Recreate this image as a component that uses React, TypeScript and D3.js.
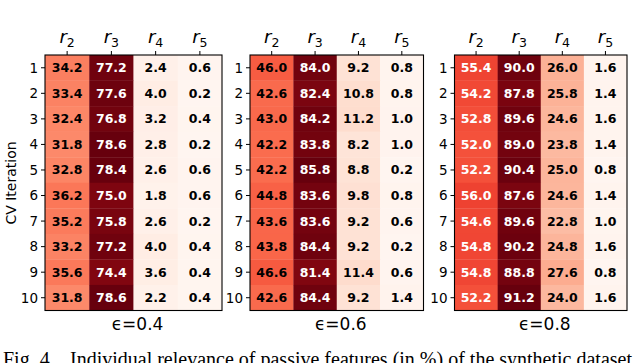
import React from "react";
import * as d3 from "d3";

const W = 640;
const H = 363;

const features = ["2", "3", "4", "5"];
const iterations = ["1", "2", "3", "4", "5", "6", "7", "8", "9", "10"];
const epsilons = ["0.4", "0.6", "0.8"];

const eps04 = [
  [34.2, 77.2, 2.4, 0.6],
  [33.4, 77.6, 4.0, 0.2],
  [32.4, 76.8, 3.2, 0.4],
  [31.8, 78.6, 2.8, 0.2],
  [32.8, 78.4, 2.6, 0.6],
  [36.2, 75.0, 1.8, 0.6],
  [35.2, 75.8, 2.6, 0.2],
  [33.2, 77.2, 4.0, 0.4],
  [35.6, 74.4, 3.6, 0.4],
  [31.8, 78.6, 2.2, 0.4],
];
const eps06 = [
  [46.0, 84.0, 9.2, 0.8],
  [42.6, 82.4, 10.8, 0.8],
  [43.0, 84.2, 11.2, 1.0],
  [42.2, 83.8, 8.2, 1.0],
  [42.2, 85.8, 8.8, 0.2],
  [44.8, 83.6, 9.8, 0.8],
  [43.6, 83.6, 9.2, 0.6],
  [43.8, 84.4, 9.2, 0.2],
  [46.6, 81.4, 11.4, 0.6],
  [42.6, 84.4, 9.2, 1.4],
];
const eps08 = [
  [55.4, 90.0, 26.0, 1.6],
  [54.2, 87.8, 25.8, 1.4],
  [52.8, 89.6, 24.6, 1.6],
  [52.0, 89.0, 23.8, 1.4],
  [52.2, 90.4, 25.0, 0.8],
  [56.0, 87.6, 24.6, 1.4],
  [54.6, 89.6, 22.8, 1.0],
  [54.8, 90.2, 24.8, 1.6],
  [54.8, 88.8, 27.6, 0.8],
  [52.2, 91.2, 24.0, 1.6],
];
const tables = [eps04, eps06, eps08];

// panel placement (left, right) in px
const panelX = [
  [45, 222],
  [250, 423.5],
  [454.5, 627],
];
const top = 55;
const bottom = 310.5;
const font = "DejaVu Sans, sans-serif";

function Heatmap({ data, x0, x1, eps }) {
  const x = d3.scaleBand().domain(features).range([x0, x1]);
  const y = d3.scaleBand().domain(iterations).range([top, bottom]);
  const flat = data.flat();
  const norm = d3.scaleLinear().domain(d3.extent(flat)).range([0, 1]);
  return (
    <g>
      {data.map((row, i) =>
        row.map((v, j) => {
          const t = norm(v);
          return (
            <g key={`c${i}-${j}`}>
              <rect
                x={x(features[j])}
                y={y(iterations[i])}
                width={x.bandwidth() + 0.3}
                height={y.bandwidth() + 0.3}
                fill={d3.interpolateReds(t)}
              />
              <text
                x={x(features[j]) + x.bandwidth() / 2}
                y={y(iterations[i]) + y.bandwidth() / 2}
                dy="0.36em"
                textAnchor="middle"
                fontFamily={font}
                fontWeight="bold"
                fontSize={12.5}
                fill={t > 0.555 ? "#fff" : "#000"}
              >
                {v.toFixed(1)}
              </text>
            </g>
          );
        })
      )}
      <rect
        x={x0}
        y={top}
        width={x1 - x0}
        height={bottom - top}
        fill="none"
        stroke="#000"
        strokeWidth={1.1}
      />
      {features.map((f) => {
        const cx = x(f) + x.bandwidth() / 2;
        return (
          <g key={`xt${f}`}>
            <line x1={cx} x2={cx} y1={top - 4} y2={top} stroke="#000" />
            <text
              x={cx}
              y={43}
              textAnchor="middle"
              fontFamily={font}
              fontSize={18}
              fill="#000"
            >
              <tspan fontStyle="italic">r</tspan>
              <tspan fontSize={12.5} dy={4}>
                {f}
              </tspan>
            </text>
          </g>
        );
      })}
      {iterations.map((r) => {
        const cy = y(r) + y.bandwidth() / 2;
        return (
          <g key={`yt${r}`}>
            <line x1={x0 - 4} x2={x0} y1={cy} y2={cy} stroke="#000" />
            <text
              x={x0 - 7}
              y={cy}
              dy="0.36em"
              textAnchor="end"
              fontFamily={font}
              fontSize={13.5}
              fill="#000"
            >
              {r}
            </text>
          </g>
        );
      })}
      <text
        x={(x0 + x1) / 2 + 4}
        y={330}
        textAnchor="middle"
        fontFamily={font}
        fontSize={17}
        fill="#000"
      >
        {`ϵ=${eps}`}
      </text>
    </g>
  );
}

export default function App() {
  return (
    <svg
      width={W}
      height={H}
      style={{ position: "absolute", left: 0, top: 0, background: "#fff" }}
    >
      <rect width={W} height={H} fill="#fff" />
      {tables.map((d, k) => (
        <Heatmap
          key={`p${k}`}
          data={d}
          x0={panelX[k][0]}
          x1={panelX[k][1]}
          eps={epsilons[k]}
        />
      ))}
      <text
        transform="translate(16,183) rotate(-90)"
        textAnchor="middle"
        fontFamily={font}
        fontSize={14}
        fill="#000"
      >
        CV Iteration
      </text>
      <text
        x={3}
        y={366}
        fontFamily="Liberation Serif, Times New Roman, serif"
        fontSize={20}
        fill="#000"
      >
        <tspan>Fig. 4.</tspan>
        <tspan x={70}>
          Individual relevance of passive features (in %) of the synthetic
          dataset
        </tspan>
      </text>
    </svg>
  );
}
